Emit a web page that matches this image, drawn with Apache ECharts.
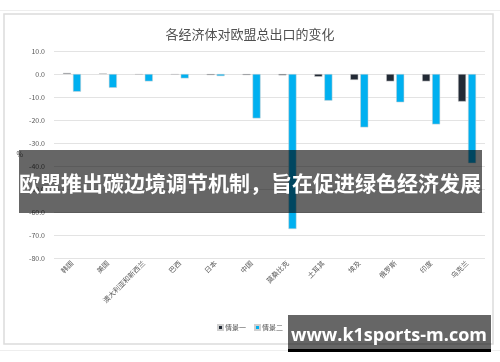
<!DOCTYPE html>
<html><head><meta charset="utf-8">
<script src="https://cdn.jsdelivr.net/npm/echarts@6/dist/echarts.min.js"></script>
<style>html,body{margin:0;padding:0;background:#fff}#c{width:500px;height:362px}</style>
</head><body><div id="c"></div>
<script>
const categories = ['韩国','美国','澳大利亚和新西兰','巴西','日本','中国','莫桑比克','土耳其','埃及','俄罗斯','印度','乌克兰'];
const scenario1 = [0.5, 0.3, -0.3, -0.3, -0.5, -0.5, -0.6, -1.2, -2.6, -3.2, -3.2, -12.0];
const scenario2 = [-7.7, -6.0, -3.2, -1.9, -0.9, -19.3, -67.4, -11.6, -23.2, -12.3, -21.9, -38.8];
const seriesNames = ['情景一', '情景二'];
const yTicks = {min: -80, max: 10, interval: 10};
const titleText = '各经济体对欧盟总出口的变化';
const bannerText = '欧盟推出碳边境调节机制，旨在促进绿色经济发展';
const watermarkText = 'www.k1sports-m.com';

const chart = echarts.init(document.getElementById('c'));
const font = '"Noto Sans CJK SC", "Noto Sans", sans-serif';
chart.setOption({
  animation: false,
  textStyle: {fontFamily: font},
  title: {text: titleText, left: 'center', top: 23, textStyle: {fontSize: 13, fontWeight: 'normal', color: '#505050', fontFamily: font}},
  grid: {left: 54, right: 15, top: 51, bottom: 104},
  legend: {bottom: 26, left: 'center', icon: 'rect', itemWidth: 5, itemHeight: 5, itemGap: 8,
    textStyle: {fontSize: 7, color: '#595959', padding: [0,0,0,-3]}, data: seriesNames},
  xAxis: {type: 'category', data: categories,
    axisLine: {show: false}, axisTick: {show: false},
    axisLabel: {rotate: 45, fontSize: 7, color: '#595959', interval: 0, margin: 4}},
  yAxis: {type: 'value', min: yTicks.min, max: yTicks.max, interval: yTicks.interval,
    name: '%', nameLocation: 'middle', nameRotate: 0, nameGap: 31,
    nameTextStyle: {fontSize: 7, color: '#595959'},
    axisLine: {show: false}, axisTick: {show: false},
    axisLabel: {fontSize: 7, color: '#595959', formatter: v => v.toFixed(1), margin: 9},
    splitLine: {lineStyle: {color: '#e3e3e3', width: 1}}},
  series: [
    {name: seriesNames[0], type: 'bar', data: scenario1, barWidth: 8, barGap: '25%',
      itemStyle: {color: '#222a35', borderColor: '#d0d0d0', borderWidth: 0.5}},
    {name: seriesNames[1], type: 'bar', data: scenario2, barWidth: 8,
      itemStyle: {color: '#00b0f0', borderColor: '#d0d0d0', borderWidth: 0.5}}
  ],
  graphic: [
    {type: 'line', z: -1, shape: {x1: 0, y1: 10.5, x2: 500, y2: 10.5}, style: {stroke: '#eeeeee', lineWidth: 1}},
    {type: 'line', z: -1, shape: {x1: 0, y1: 350.5, x2: 500, y2: 350.5}, style: {stroke: '#eeeeee', lineWidth: 1}},
    {type: 'rect', z: -1, shape: {x: 4, y: 14, width: 489, height: 330}, style: {fill: 'none', stroke: '#dcdcdc', lineWidth: 1.5}},
    {type: 'rect', z: 100, shape: {x: 19, y: 150, width: 463, height: 63}, style: {fill: 'rgba(0,0,0,0.6)'}},
    {type: 'text', z: 101, x: 250, y: 183, style: {text: bannerText, fill: '#ffffff', fontSize: 21, fontWeight: 'bold', fontFamily: font, align: 'center', verticalAlign: 'middle'}},
    {type: 'rect', z: 100, shape: {x: 288, y: 315, width: 203, height: 34}, style: {fill: 'rgba(0,0,0,0.6)'}},
    {type: 'rect', z: 100, shape: {x: 288, y: 349, width: 203, height: 3}, style: {fill: '#000000'}},
    {type: 'text', z: 101, x: 389, y: 336, style: {text: watermarkText, fill: '#ffffff', fontSize: 18, fontWeight: 'bold', fontFamily: '"Open Sans", "DejaVu Sans", sans-serif', align: 'center', verticalAlign: 'middle'}}
  ]
});
</script></body></html>
